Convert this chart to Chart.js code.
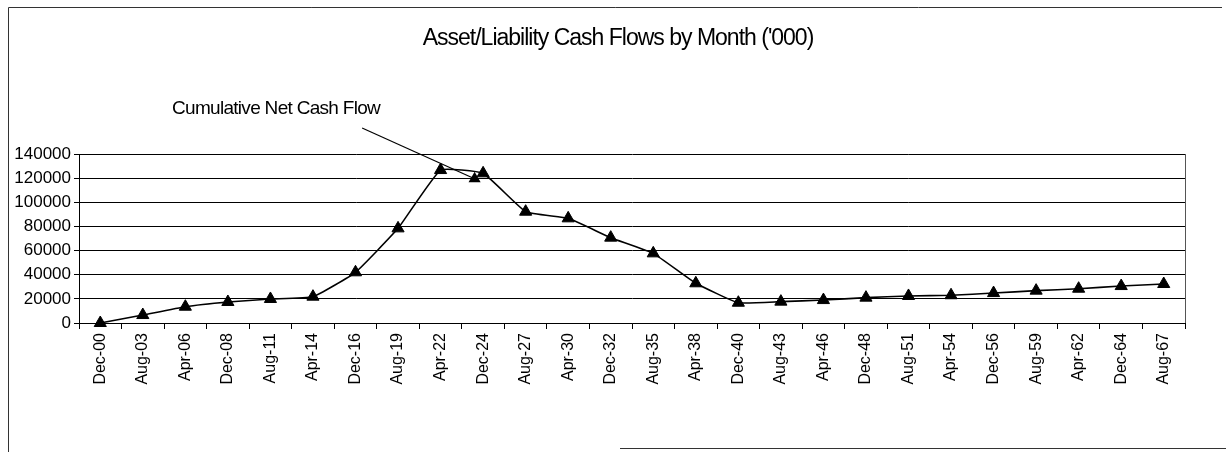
<!DOCTYPE html>
<html>
<head>
<meta charset="utf-8">
<script src="https://cdn.jsdelivr.net/npm/chart.js@4.4.0/dist/chart.umd.min.js"></script>
<style>
html,body{margin:0;padding:0;background:#fff;}
#wrap{width:1226px;height:452px;position:relative;}
</style>
</head>
<body>
<div id="wrap"><canvas id="cf" width="1226" height="452"></canvas></div>
<script>
// month labels on the x axis
const months = ['Dec-00','Aug-03','Apr-06','Dec-08','Aug-11','Apr-14','Dec-16','Aug-19','Apr-22','Dec-24',
  'Aug-27','Apr-30','Dec-32','Aug-35','Apr-38','Dec-40','Aug-43','Apr-46','Dec-48','Aug-51',
  'Apr-54','Dec-56','Aug-59','Apr-62','Dec-64','Aug-67'];

// cumulative net cash flow ('000)
const netCashFlow = [0, 6600, 13500, 17400, 19900, 21800, 42000, 78400, 126700, 124000,
  92200, 86700, 70700, 57700, 32900, 16800, 17700, 19000, 21000, 22400,
  23000, 24800, 26800, 28400, 30600, 32300];

const yMin = 0;
const yMax = 140000;
const yStep = 20000;

const titleText = "Asset/Liability Cash Flows by Month ('000)";
const noteText = 'Cumulative Net Cash Flow';
// where the callout arrow lands (category index, value)
const noteTarget = [8.8, 119500];

const FONT = '"Liberation Sans", Arial, sans-serif';

const extras = {
  id: 'extras',
  beforeDraw(chart) {
    const ctx = chart.ctx;
    ctx.save();
    ctx.fillStyle = '#fff';
    ctx.fillRect(0, 0, chart.width, chart.height);
    // outer frame (scanned, partly missing)
    ctx.strokeStyle = '#333';
    ctx.lineWidth = 1;
    ctx.beginPath();
    ctx.moveTo(8.5, 452); ctx.lineTo(8.5, 7.5); ctx.lineTo(1222, 7.5);
    ctx.moveTo(620, 448.5); ctx.lineTo(1226, 448.5);
    ctx.stroke();
    ctx.restore();
  },
  afterDraw(chart) {
    const ctx = chart.ctx;
    const a = chart.chartArea;
    const xs = chart.scales.x, ys = chart.scales.y;
    ctx.save();
    // right edge of plot area
    ctx.strokeStyle = '#555';
    ctx.lineWidth = 1;
    ctx.beginPath();
    ctx.moveTo(Math.round(a.right) + 0.5, a.top);
    ctx.lineTo(Math.round(a.right) + 0.5, a.bottom);
    ctx.stroke();

    // title
    ctx.fillStyle = '#000';
    ctx.font = '23px ' + FONT;
    ctx.letterSpacing = '-1px';
    ctx.textAlign = 'center';
    ctx.textBaseline = 'middle';
    ctx.fillText(titleText, 618, 39);

    // callout text
    ctx.font = '19px ' + FONT;
    ctx.letterSpacing = '-0.7px';
    ctx.textAlign = 'left';
    const tx = 172, ty = 109;
    ctx.fillText(noteText, tx, ty);
    const tw = ctx.measureText(noteText).width;
    ctx.letterSpacing = '0px';

    // callout pointer
    const ex = xs.getPixelForValue(noteTarget[0]);
    const ey = ys.getPixelForValue(noteTarget[1]);
    ctx.strokeStyle = '#000';
    ctx.lineWidth = 1.2;
    ctx.beginPath();
    ctx.moveTo(tx + tw - 18, ty + 19);
    ctx.lineTo(ex, ey);
    ctx.stroke();
    const r = 7;
    ctx.beginPath();
    ctx.moveTo(ex, ey - r);
    ctx.lineTo(ex + r * 0.866, ey + r * 0.5);
    ctx.lineTo(ex - r * 0.866, ey + r * 0.5);
    ctx.closePath();
    ctx.fill();
    ctx.restore();
  }
};

new Chart(document.getElementById('cf'), {
  type: 'line',
  data: {
    labels: months,
    datasets: [{
      label: noteText,
      data: netCashFlow,
      borderColor: '#000',
      borderWidth: 1.6,
      tension: 0.12,
      pointStyle: 'triangle',
      pointRadius: 7,
      pointBackgroundColor: '#000',
      pointBorderColor: '#000',
      pointBorderWidth: 1,
      clip: false
    }]
  },
  options: {
    responsive: false,
    animation: false,
    devicePixelRatio: 1,
    layout: { padding: { left: 0, right: 41, top: 154, bottom: 0 } },
    plugins: {
      legend: { display: false },
      title: { display: false },
      tooltip: { enabled: false }
    },
    scales: {
      x: {
        type: 'category',
        offset: true,
        grid: { display: true, drawOnChartArea: false, offset: true, tickLength: 6, color: '#000' },
        border: { color: '#000', width: 1 },
        ticks: { minRotation: 90, maxRotation: 90, autoSkip: false, color: '#000', padding: 4,
          font: { family: FONT, size: 16 } },
        afterFit(s) { s.height = 129; }
      },
      y: {
        min: yMin,
        max: yMax,
        grid: { color: '#000', lineWidth: 1, tickLength: 5 },
        border: { color: '#000', width: 1 },
        ticks: { stepSize: yStep, color: '#000', padding: 3,
          font: { family: FONT, size: 17 },
          callback: v => String(v) },
        afterFit(s) { s.width = 79; }
      }
    }
  },
  plugins: [extras]
});
</script>
</body>
</html>
